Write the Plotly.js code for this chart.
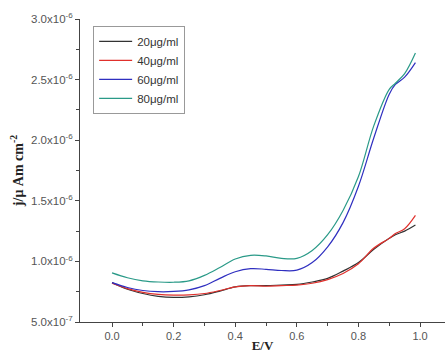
<!DOCTYPE html>
<html>
<head>
<meta charset="utf-8">
<script src="https://cdn.plot.ly/plotly-3.0.1.min.js"></script>
<style>html,body{margin:0;padding:0;background:#fff;}#chart{width:445px;height:353px;}</style>
</head>
<body>
<div id="chart"></div>
<script>
// Potential (V)
const potential = [0, 0.05, 0.1, 0.15, 0.2, 0.25, 0.3, 0.35, 0.4, 0.45, 0.5, 0.55, 0.6, 0.65, 0.7, 0.75, 0.8, 0.85, 0.9, 0.92, 0.95, 0.985];
// Current density (x1e-6)
const c20 = [0.825, 0.77, 0.735, 0.712, 0.703, 0.708, 0.725, 0.755, 0.79, 0.80, 0.80, 0.805, 0.81, 0.83, 0.86, 0.92, 0.99, 1.10, 1.19, 1.22, 1.25, 1.30];
const c40 = [0.82, 0.775, 0.745, 0.728, 0.722, 0.724, 0.735, 0.76, 0.79, 0.80, 0.795, 0.80, 0.805, 0.82, 0.85, 0.90, 0.98, 1.11, 1.19, 1.23, 1.27, 1.38];
const c60 = [0.825, 0.785, 0.76, 0.75, 0.752, 0.765, 0.80, 0.86, 0.915, 0.94, 0.935, 0.925, 0.928, 0.99, 1.12, 1.32, 1.62, 2.02, 2.38, 2.46, 2.52, 2.64];
const c80 = [0.905, 0.865, 0.84, 0.83, 0.828, 0.84, 0.885, 0.95, 1.02, 1.05, 1.045, 1.025, 1.025, 1.09, 1.22, 1.42, 1.70, 2.12, 2.42, 2.47, 2.55, 2.72];
const seriesNames = ["20\u03bcg/ml", "40\u03bcg/ml", "60\u03bcg/ml", "80\u03bcg/ml"];
const seriesColors = ["#333333", "#e0302c", "#2f2fc0", "#2a9a88"];
const yTickVals = [5e-7, 1e-6, 1.5e-6, 2e-6, 2.5e-6, 3e-6];
const yTickText = ["5.0x10<sup>-7</sup>", "1.0x10<sup>-6</sup>", "1.5x10<sup>-6</sup>", "2.0x10<sup>-6</sup>", "2.5x10<sup>-6</sup>", "3.0x10<sup>-6</sup>"];
const yMinorVals = [7.5e-7, 1.25e-6, 1.75e-6, 2.25e-6, 2.75e-6];
const xTickVals = [0, 0.2, 0.4, 0.6, 0.8, 1.0];
const xTickText = ["0.0", "0.2", "0.4", "0.6", "0.8", "1.0"];
const xMinorVals = [0.1, 0.3, 0.5, 0.7, 0.9];

const all = [c20, c40, c60, c80];
const traces = all.map((arr, i) => ({
  x: potential,
  y: arr.map(v => v * 1e-6),
  type: 'scatter',
  mode: 'lines',
  name: seriesNames[i],
  line: {color: seriesColors[i], width: 1.2, shape: 'spline', smoothing: 1}
}));

const layout = {
  width: 445, height: 353,
  margin: {l: 80, r: 0, t: 19, b: 31},
  paper_bgcolor: '#fff', plot_bgcolor: '#fff',
  font: {family: 'Liberation Sans, Arial, sans-serif', size: 11, color: '#444'},
  showlegend: true,
  legend: {
    x: 0.036, y: 0.977, xanchor: 'left', yanchor: 'top',
    bordercolor: '#999', borderwidth: 1, bgcolor: '#fff',
    font: {size: 11.5, color: '#333'}, tracegroupgap: 0, itemwidth: 33
  },
  xaxis: {
    range: [-0.104, 1.081],
    tickmode: 'array', tickvals: xTickVals, ticktext: xTickText,
    ticks: 'outside', ticklen: 4, tickcolor: '#444',
    minor: {tickmode: 'array', tickvals: xMinorVals, ticks: 'outside', ticklen: 3, tickcolor: '#444'},
    showline: true, linecolor: '#444', linewidth: 1,
    showgrid: false, zeroline: false,
    tickfont: {size: 11, color: '#555'},
    title: {text: '<b>E/V</b>', font: {family: 'Liberation Serif, Times New Roman, serif', size: 13, color: '#222'}, standoff: 1}
  },
  yaxis: {
    range: [5e-7, 3e-6],
    tickmode: 'array', tickvals: yTickVals, ticktext: yTickText,
    ticks: 'outside', ticklen: 4, tickcolor: '#444',
    minor: {tickmode: 'array', tickvals: yMinorVals, ticks: 'outside', ticklen: 3, tickcolor: '#444'},
    showline: true, linecolor: '#444', linewidth: 1,
    showgrid: false, zeroline: false,
    tickfont: {size: 11.5, color: '#555'},
    title: {text: '<b>j/\u03bc Am cm<sup>-2</sup></b>', font: {family: 'Liberation Serif, Times New Roman, serif', size: 14, color: '#222'}, standoff: 4}
  }
};

Plotly.newPlot('chart', traces, layout, {displayModeBar: false, staticPlot: true});
</script>
</body>
</html>
